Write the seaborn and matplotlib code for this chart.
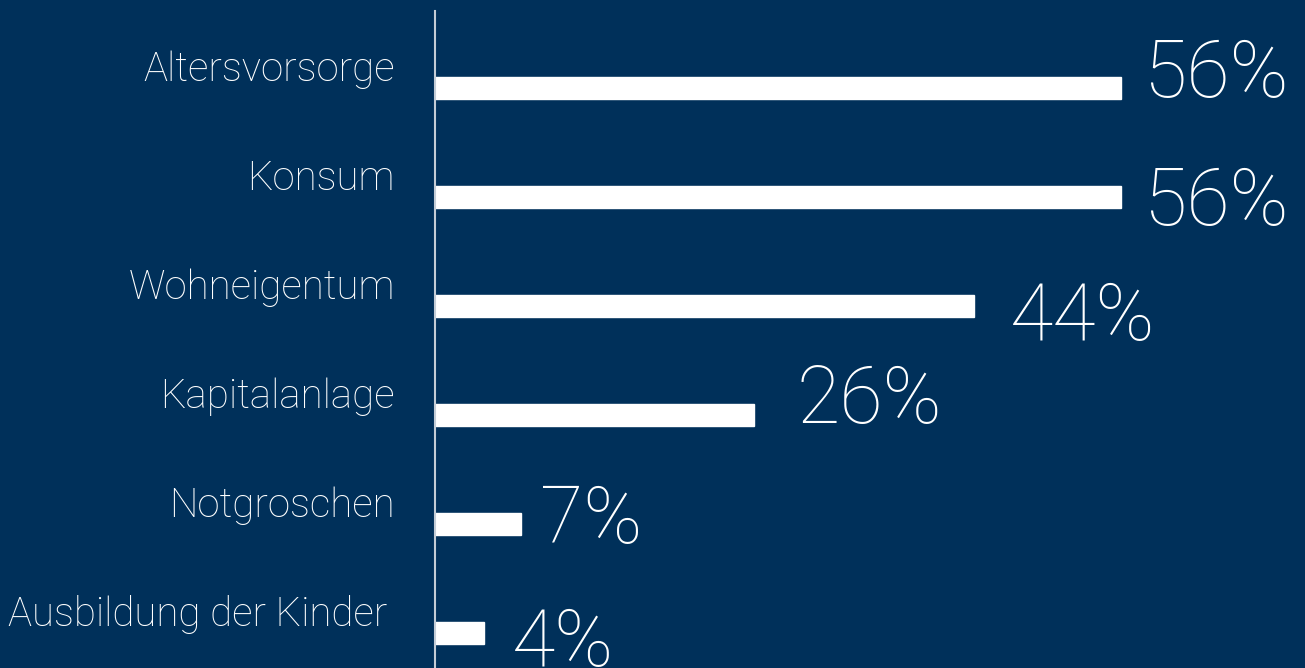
import matplotlib
matplotlib.use("Agg")
import matplotlib.pyplot as plt
import seaborn as sns
import pandas as pd

sns.set_style("white")
plt.rcParams["font.family"] = ["Roboto", "DejaVu Sans"]

# data
categories = ["Altersvorsorge", "Konsum", "Wohneigentum", "Kapitalanlage",
              "Notgroschen", "Ausbildung der Kinder"]
values = [56, 56, 44, 26, 7, 4]

# layout of the value labels (pixel offsets from bar end / bar centre)
label_dx = [22, 22, 36, 43, 19, 28]
label_dy = [-9, -28, -34, -8, -19, -33]
name_dx = [0, 0, 0, 0, 0, -8]

bg = "#00305a"
df = pd.DataFrame({"cat": categories, "val": values})

fig = plt.figure(figsize=(13.05, 6.68), dpi=100, facecolor=bg)
ax = fig.add_axes([435 / 1305, 0, 870 / 1305, 657 / 668])
ax.set_facecolor(bg)

sns.barplot(data=df, y="cat", x="val", color="white", saturation=1,
            width=0.2, orient="h", ax=ax)

ax.set_xlim(0, 870 / 12.25)
ax.set_ylim(5.321, -0.706)
ax.set_xlabel("")
ax.set_ylabel("")
ax.set_xticks([])
ax.set_yticks([])
for s in ["top", "right", "bottom"]:
    ax.spines[s].set_visible(False)
ax.spines["left"].set_color("#c3ccd6")
ax.spines["left"].set_linewidth(1.5)

for i, (c, v) in enumerate(zip(categories, values)):
    ax.annotate(c, xy=(0, i), xytext=(-40 + name_dx[i], 7),
                textcoords="offset pixels", ha="right", va="baseline",
                fontsize=29, fontweight="light", color="white",
                annotation_clip=False)
    ax.annotate(f"{v}%", xy=(v, i), xytext=(label_dx[i], label_dy[i]),
                textcoords="offset pixels", ha="left", va="baseline",
                fontsize=57, fontweight="light", color="white",
                annotation_clip=False)

fig.savefig("out.png", dpi=100, facecolor=bg)
